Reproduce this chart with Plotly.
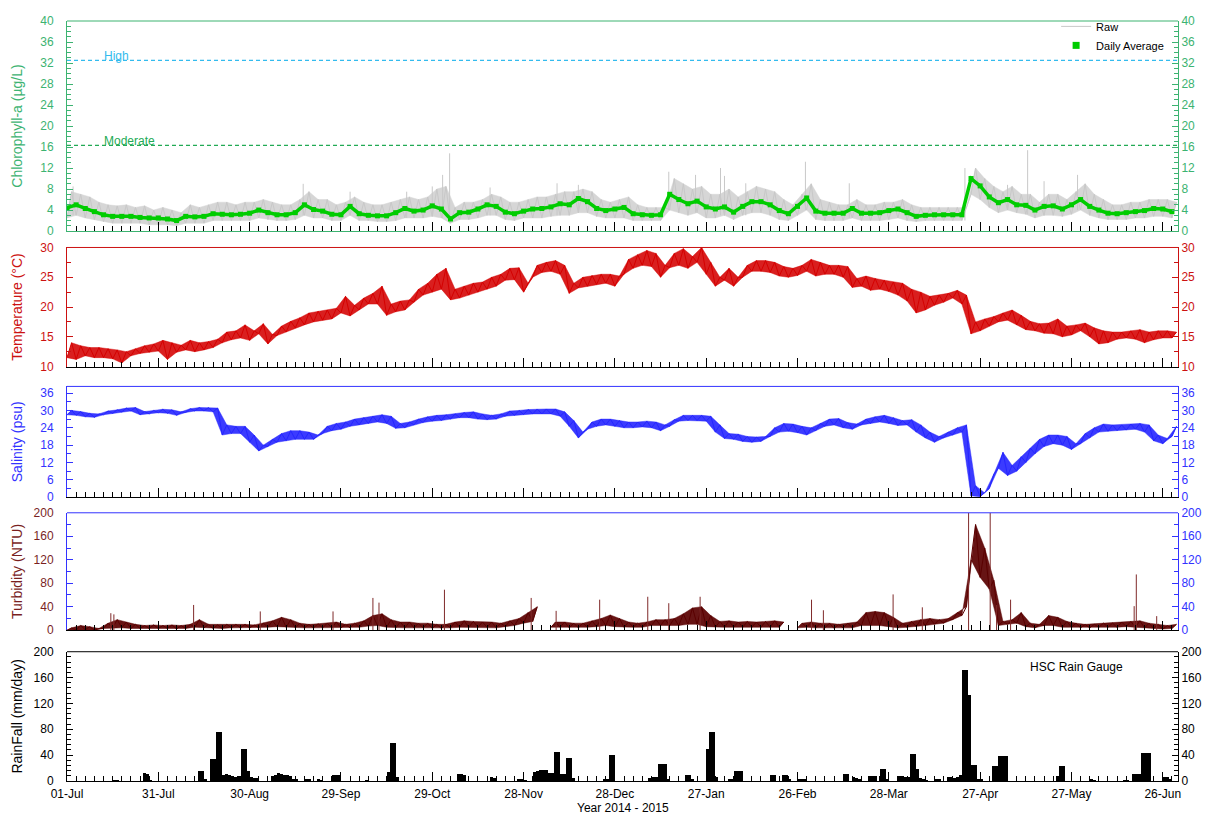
import pandas as pd
import plotly.graph_objects as go

START = pd.Timestamp("2014-07-01")
END = pd.Timestamp("2015-07-01")
STEP_DAYS = 3  # read-off sampling interval (days) from 01-Jul-2014

# ---------------- Chlorophyll-a (ug/L) ----------------
chl_avg = [4.4, 5.0, 4.3, 3.7, 3.1, 2.8, 2.8, 2.8, 2.6, 2.5,
           2.5, 2.3, 2.0, 2.8, 2.7, 2.8, 3.3, 3.2, 3.1, 3.2,
           3.4, 4.0, 3.5, 3.1, 3.1, 3.5, 5.0, 4.1, 3.8, 3.2,
           3.1, 4.7, 3.3, 3.0, 2.9, 2.9, 3.5, 4.3, 3.8, 4.0,
           4.8, 4.2, 2.3, 3.5, 3.6, 4.2, 5.0, 4.7, 3.6, 3.3,
           3.8, 4.2, 4.3, 4.6, 5.2, 5.0, 6.2, 5.6, 4.3, 3.9,
           4.2, 4.5, 3.3, 3.1, 3.0, 3.1, 7.0, 6.0, 5.2, 5.7,
           4.6, 4.2, 4.6, 3.6, 4.7, 5.6, 5.6, 5.0, 3.9, 3.3,
           4.7, 6.3, 3.8, 3.4, 3.4, 3.4, 4.3, 3.4, 3.4, 3.5,
           3.9, 4.2, 3.5, 2.8, 3.0, 3.1, 3.1, 3.1, 3.1, 10.0,
           8.6, 6.5, 5.4, 6.0, 5.0, 4.9, 4.0, 4.7, 4.8, 4.2,
           5.0, 6.0, 4.7, 4.0, 3.4, 3.3, 3.5, 3.7, 3.9, 4.3,
           4.2, 3.7]
chl_raw_lo = [2.5, 3.0, 2.5, 2.2, 1.8, 1.5, 1.5, 1.5, 1.5, 1.2,
              1.2, 1.2, 1.0, 1.5, 1.5, 1.5, 2.0, 2.0, 2.0, 2.0,
              2.0, 2.5, 2.2, 2.0, 2.0, 2.2, 3.0, 2.5, 2.5, 2.0,
              2.0, 3.0, 2.0, 2.0, 1.8, 1.8, 2.0, 2.5, 2.5, 2.5,
              2.8, 2.5, 1.5, 2.2, 2.2, 2.5, 3.0, 3.0, 2.2, 2.0,
              2.5, 2.5, 2.5, 2.8, 3.0, 3.0, 3.5, 3.5, 2.8, 2.5,
              2.5, 2.5, 2.0, 2.0, 2.0, 2.0, 4.0, 3.5, 3.0, 3.5,
              2.5, 2.5, 3.0, 2.2, 3.0, 3.5, 3.5, 3.0, 2.2, 2.0,
              3.0, 4.0, 2.2, 2.0, 2.0, 2.0, 2.5, 2.0, 2.0, 2.0,
              2.2, 2.5, 2.0, 1.8, 2.0, 2.0, 2.0, 2.0, 2.0, 7.0,
              6.0, 4.5, 3.5, 4.0, 3.5, 3.2, 2.5, 3.0, 3.0, 2.8,
              3.2, 4.0, 3.0, 2.5, 2.2, 2.2, 2.2, 2.5, 2.5, 2.8,
              2.8, 2.5]
chl_raw_hi = [7.5, 7.0, 6.5, 5.5, 5.0, 4.8, 5.0, 4.5, 4.8, 4.0,
              4.5, 4.0, 3.5, 5.0, 4.5, 5.0, 5.5, 5.5, 5.0, 5.5,
              5.5, 6.0, 5.5, 5.0, 5.0, 6.0, 7.5, 6.0, 6.0, 5.0,
              5.5, 6.5, 5.5, 5.0, 5.0, 5.5, 6.0, 6.5, 6.0, 6.5,
              8.0, 8.5, 4.5, 5.5, 5.5, 6.0, 7.0, 6.5, 5.5, 5.5,
              6.0, 6.5, 6.5, 7.0, 7.5, 7.5, 8.0, 7.5, 6.0, 5.5,
              6.0, 6.5, 5.0, 4.5, 4.5, 4.5, 10.0, 9.0, 8.0, 8.5,
              7.0, 7.0, 8.0, 6.5, 7.5, 8.5, 8.0, 7.5, 6.0, 5.0,
              7.0, 9.0, 6.0, 5.5, 5.0, 5.0, 6.0, 5.0, 5.0, 5.5,
              5.5, 6.0, 5.0, 4.5, 4.5, 4.5, 4.5, 4.5, 4.5, 12.0,
              10.0, 8.5, 7.5, 8.5, 7.0, 7.0, 5.5, 7.0, 7.0, 6.0,
              7.5, 9.0, 7.0, 6.0, 5.0, 5.0, 5.5, 5.5, 6.0, 6.0,
              6.0, 5.5]
chl_spike_day = [2, 77.6, 93, 111.6, 120, 123.4, 125.7, 139, 161, 168, 197.7,
                 206.5, 214.7, 216, 223, 242.6, 257, 295, 309, 315.6, 321, 332]
chl_spike_val = [8.5, 9, 7.5, 7.5, 8.5, 10.7, 14.8, 8.3, 9.1, 8.8, 11.3,
                 10.7, 12, 10.5, 9.1, 13.2, 9.1, 12, 8.8, 15.4, 9.5, 10.7]
threshold_names = ["High", "Moderate"]
threshold_values = [32.5, 16.3]

# ---------------- Temperature (deg C) ----------------
temp_lo = [11.5, 11.2, 11.8, 11.5, 11.5, 11.3, 10.6, 11.8, 12.2, 12.4,
           12.6, 11.2, 12.4, 12.8, 12.5, 12.8, 13.2, 14.0, 14.5, 14.8,
           14.4, 15.5, 13.8, 15.2, 15.8, 16.5, 17.0, 17.5, 17.8, 18.0,
           19.0, 18.5, 19.5, 20.5, 20.5, 18.6, 19.2, 19.5, 20.8, 22.0,
           22.5, 23.0, 21.2, 21.5, 22.0, 22.5, 23.0, 23.5, 24.5, 24.6,
           22.5, 25.0, 25.8, 26.0, 25.5, 22.3, 23.2, 23.5, 23.8, 24.0,
           23.5, 25.5, 26.5, 27.0, 26.8, 25.0, 26.6, 27.0, 26.5, 27.5,
           25.5, 23.5, 24.5, 23.5, 25.0, 26.0, 26.0, 25.8, 25.2, 25.0,
           25.3, 26.0, 25.2, 25.5, 25.5, 25.0, 23.3, 23.5, 22.8, 23.0,
           22.6, 22.0, 21.0, 19.0, 19.5, 20.3, 20.8, 21.5, 20.5, 15.5,
           16.0, 16.8, 17.5, 17.8, 17.0, 16.2, 16.0, 15.6, 15.5, 15.0,
           15.3, 16.0, 15.0, 13.8, 14.0, 14.6, 14.8, 14.6, 14.0, 14.5,
           14.8, 14.8]
temp_hi = [14.0, 13.5, 13.2, 13.2, 13.0, 12.8, 12.5, 13.0, 13.5, 13.8,
           14.4, 14.0, 13.6, 14.4, 14.0, 14.2, 14.6, 15.8, 16.0, 17.0,
           16.0, 17.2, 15.4, 16.8, 17.6, 18.2, 19.0, 19.3, 19.5, 19.8,
           21.8, 20.3, 21.5, 22.3, 23.5, 20.5, 21.0, 21.2, 23.0, 24.0,
           25.5, 26.5, 23.0, 23.5, 24.0, 24.2, 25.0, 25.5, 26.5, 26.6,
           24.0, 27.0, 27.5, 27.8, 27.0, 24.0, 25.0, 25.3, 25.5, 25.5,
           25.2, 28.0, 28.8, 29.5, 29.0, 27.0, 29.0, 29.8, 28.5, 30.0,
           27.5, 25.0, 26.5, 25.0, 27.0, 27.8, 27.8, 27.5, 26.8, 26.5,
           27.0, 28.0, 27.5, 27.0, 27.0, 26.8, 24.8, 25.2, 24.8, 24.5,
           24.2, 24.0, 23.0, 22.5, 21.8, 22.0, 22.3, 22.8, 22.0, 17.5,
           18.0, 18.4, 19.0, 19.5, 18.6, 17.6, 17.2, 17.3, 18.0, 16.8,
           17.0, 17.3, 16.5, 16.0, 15.8, 15.8, 16.0, 16.2, 15.8, 16.0,
           16.0, 15.8]

# ---------------- Salinity (psu) ----------------
sal_lo = [28.5, 28.3, 27.8, 27.6, 28.5, 29.0, 29.5, 29.8, 28.5, 28.8,
          29.2, 29.0, 28.3, 29.3, 29.8, 29.8, 29.5, 21.5, 22.0, 22.0,
          19.0, 16.0, 17.5, 19.0, 19.5, 20.0, 20.0, 20.0, 22.0, 23.0,
          23.5, 24.5, 25.0, 25.5, 26.0, 25.5, 23.8, 24.0, 25.0, 25.8,
          26.3, 26.5, 27.0, 27.5, 27.5, 27.0, 26.8, 27.0, 28.0, 28.3,
          28.6, 28.8, 28.8, 28.8, 28.0, 24.5, 20.5, 23.5, 24.5, 25.0,
          24.5, 24.0, 24.0, 24.3, 24.0, 23.0, 24.5, 26.3, 26.5, 26.5,
          26.3, 22.5, 20.3, 20.0, 19.3, 19.0, 19.3, 21.0, 22.5, 22.8,
          22.3, 21.5, 23.0, 24.5, 25.0, 24.0, 23.5, 25.0, 25.5, 26.0,
          25.5, 24.8, 25.0, 22.5, 20.5, 19.0, 20.5, 21.5, 22.5, 0.5,
          0.2, 3.0, 10.0, 7.5, 9.0, 12.0, 15.0, 17.5, 18.5, 18.0,
          16.5, 18.5, 20.5, 22.5, 22.8, 23.0, 23.2, 23.5, 22.5, 19.5,
          18.5, 21.0]
sal_hi = [30.0, 29.6, 29.0, 28.8, 29.8, 30.2, 30.8, 31.0, 29.6, 30.0,
          30.4, 30.2, 29.5, 30.6, 31.0, 31.0, 30.8, 25.0, 24.5, 24.5,
          21.5, 18.0, 20.0, 22.0, 23.0, 23.0, 22.5, 21.5, 24.5, 25.5,
          26.0, 27.0, 27.5, 28.0, 28.5, 28.0, 25.5, 26.0, 27.0, 27.8,
          28.3, 28.5, 28.8, 29.3, 29.5, 28.8, 28.3, 28.8, 29.8, 30.0,
          30.3, 30.5, 30.5, 30.5, 29.5, 26.5, 22.5, 26.0, 27.0, 27.0,
          26.5, 26.0, 26.0, 26.3, 26.0, 25.0, 26.8, 28.3, 28.3, 28.3,
          28.0, 25.0, 22.0, 21.8, 21.0, 20.8, 21.0, 24.0, 25.5, 25.3,
          24.5, 24.0, 25.5, 27.0, 27.2, 25.8, 25.3, 27.0, 27.8, 28.3,
          27.5, 26.5, 26.8, 25.0, 22.5, 21.0, 22.5, 24.0, 25.0, 4.0,
          1.5, 8.0, 15.5, 11.0, 14.0, 17.0, 20.0, 21.5, 21.5, 21.0,
          18.5, 22.0, 24.0, 25.3, 25.0, 25.0, 25.3, 25.5, 25.0, 21.5,
          20.3, 24.5]

# ---------------- Turbidity (NTU) ----------------
turb_lo = [0, 0, 1, 0, 3, 4, 4, 3, 3, 3,
           3, 3, 2, 3, 5, 4, 3, 3, 4, 4,
           4, 4, 5, 6, 5, 4, 4, 4, 4, 4,
           4, 4, 5, 7, 8, 5, 4, 4, 4, 4,
           3, 3, 4, 5, 5, 5, 5, 4, 6, 8,
           12, 15, None, 5, 5, 4, 4, 5, 6, 8,
           6, 5, 5, 5, 8, 8, 8, 8, 10, 10,
           6, 5, 5, 5, 5, 5, 5, 5, 5, None,
           4, 5, 4, 4, 3, 4, 4, 8, 8, 8,
           6, 4, 5, 6, 8, 10, 12, 18, 25, 120,
           90, 70, 8, 10, 12, 6, 4, 8, 8, 5,
           5, 4, 4, 5, 5, 5, 6, 5, 4, 3,
           2, 3]
turb_hi = [4, 8, 6, 3, 12, 18, 14, 10, 8, 9,
           8, 9, 8, 10, 18, 10, 9, 10, 10, 10,
           9, 12, 16, 22, 18, 12, 10, 11, 12, 14,
           10, 12, 16, 25, 28, 18, 14, 14, 12, 12,
           10, 10, 14, 16, 15, 14, 14, 12, 16, 20,
           30, 40, None, 14, 14, 12, 12, 16, 20, 26,
           20, 14, 12, 14, 18, 18, 20, 28, 38, 40,
           25, 15, 16, 14, 15, 14, 15, 16, 14, None,
           12, 14, 12, 12, 10, 12, 14, 30, 32, 30,
           22, 12, 15, 18, 20, 18, 20, 30, 40, 180,
           140, 85, 15, 18, 30, 12, 10, 25, 22, 15,
           12, 10, 10, 12, 12, 14, 15, 16, 12, 10,
           8, 10]
turb_spike_day = [14.4, 15.4, 41.6, 63.5, 87.4, 100.5, 102.5, 124, 152.5, 160.7, 175,
                  190.8, 197.7, 208, 244.6, 248.5, 271.4, 281, 296.2, 303.3, 305.4,
                  310, 350.6, 351.3, 358]
turb_spike_val = [29, 27, 43, 32, 32, 55, 47, 69, 55, 33, 52,
                  57, 46, 57, 52, 34, 61, 39, 200, 200, 43,
                  52, 41, 95, 24]

# ---------------- Rainfall (mm/day), day offset from 01-Jul-2014 ----------------
rain_day = [15, 16, 25, 26, 27, 43, 44, 45, 47, 48, 49, 50, 51, 52, 53, 54, 55, 56, 57, 58,
            59, 60, 61, 62, 67, 68, 69, 70, 71, 72, 73, 74, 75, 78, 79, 82, 83, 87, 88, 89,
            98, 105, 106, 107, 108, 128, 129, 130, 139, 140, 148, 149, 150, 153, 154, 155,
            156, 157, 158, 159, 160, 161, 162, 163, 164, 165, 166, 176, 177, 178, 179, 191,
            192, 193, 194, 195, 196, 197, 203, 204, 205, 210, 211, 212, 213, 217, 218, 219,
            220, 221, 231, 232, 235, 236, 237, 240, 241, 242, 255, 256, 258, 259, 260, 263,
            264, 265, 267, 268, 269, 273, 274, 275, 276, 277, 278, 279, 280, 281, 282, 285,
            286, 289, 290, 291, 292, 293, 294, 295, 296, 297, 298, 299, 300, 304, 305, 306,
            307, 308, 325, 326, 327, 336, 337, 347, 348, 350, 351, 352, 353, 354, 355, 360,
            361, 362]
rain_mm = [2, 1, 13, 12, 2, 16, 16, 3, 34, 34, 76, 76, 10, 11, 9, 8, 7, 8, 50, 50,
           16, 6, 5, 5, 8, 10, 13, 12, 9, 9, 8, 4, 4, 4, 4, 3, 2, 9, 9, 9,
           2, 14, 59, 59, 6, 11, 11, 10, 6, 5, 3, 3, 2, 15, 16, 17,
           18, 18, 13, 13, 45, 45, 12, 12, 36, 36, 5, 3, 4, 41, 41, 5,
           6, 6, 27, 27, 27, 4, 10, 10, 3, 50, 76, 76, 6, 4, 4, 16,
           16, 16, 10, 10, 10, 10, 4, 4, 4, 3, 12, 11, 6, 5, 3, 8,
           8, 8, 19, 19, 3, 8, 8, 6, 6, 42, 42, 19, 5, 3, 2, 4,
           3, 6, 6, 5, 6, 10, 172, 172, 134, 25, 25, 4, 3, 23, 23, 39,
           39, 39, 8, 23, 23, 3, 2, 2, 2, 12, 12, 12, 44, 44, 44, 6,
           6, 3]

# ---------------- styling ----------------
FONT = "Arial, 'Liberation Sans', sans-serif"
GREEN_AX = "#3CB371"
CHL_AVG_C = "#00CC00"
RAW_C = "#C8C8C8"
RED = "#CC1111"
TEMP_C = "#D40000"
BLUE = "#3333FF"
SAL_C = "#2626FF"
TURB_C = "#5A0000"
TURB_LAB = "#7A1F1F"
DAY_MS = 86400000


def sample_dates(n):
    return pd.date_range(START, periods=n, freq=f"{STEP_DAYS}D")


def zigzag(lo, hi):
    dates = sample_dates(len(lo))
    half = pd.Timedelta(days=STEP_DAYS / 2)
    xs, ys = [], []
    for d, l, h in zip(dates, lo, hi):
        if l is None or h is None:
            xs.append(None)
            ys.append(None)
            continue
        xs += [d, d + half]
        ys += [l, h]
    return xs, ys


def band(lo, hi):
    """closed outline between the low and high read-off envelopes"""
    dates = sample_dates(len(lo))
    half = pd.Timedelta(days=STEP_DAYS / 2)
    segs, cur = [], []
    for d, l, h in zip(dates, lo, hi):
        if l is None or h is None:
            if cur:
                segs.append(cur)
            cur = []
            continue
        cur.append((d, l, h))
    if cur:
        segs.append(cur)
    xs, ys = [], []
    for seg in segs:
        xs += [d for d, _, _ in seg] + [d + half for d, _, _ in reversed(seg)]
        ys += [l for _, l, _ in seg] + [h for _, _, h in reversed(seg)]
        xs.append(None)
        ys.append(None)
    return xs, ys


def spikes(days, vals, base_list=None):
    xs, ys = [], []
    for d, v in zip(days, vals):
        t = START + pd.Timedelta(days=d)
        if base_list is None:
            b = 0
        else:
            b = base_list[min(int(round(d / STEP_DAYS)), len(base_list) - 1)]
        xs += [t, t, None]
        ys += [b, v, None]
    return xs, ys


def add_raw(fig, lo, hi, color, fillcolor, xa, ya, width=1.0, name=None):
    bx, by = band(lo, hi)
    fig.add_trace(go.Scatter(x=bx, y=by, mode="lines", fill="toself", fillcolor=fillcolor,
                             line=dict(width=0.5, color=fillcolor), showlegend=False,
                             hoverinfo="skip", xaxis=xa, yaxis=ya))
    zx, zy = zigzag(lo, hi)
    fig.add_trace(go.Scatter(x=zx, y=zy, mode="lines", line=dict(color=color, width=width),
                             name=name, showlegend=name is not None,
                             xaxis=xa, yaxis=ya, hoverinfo="skip"))


fig = go.Figure()

# Panel 1: chlorophyll
add_raw(fig, chl_raw_lo, chl_raw_hi, RAW_C, "#D6D6D6", "x", "y", 1.0, "Raw")
x, y = spikes(chl_spike_day, chl_spike_val, chl_raw_lo)
fig.add_trace(go.Scatter(x=x, y=y, mode="lines", line=dict(color=RAW_C, width=1),
                         showlegend=False, xaxis="x", yaxis="y", hoverinfo="skip"))
fig.add_trace(go.Scatter(x=sample_dates(len(chl_avg)), y=chl_avg, mode="lines+markers",
                         line=dict(color=CHL_AVG_C, width=3.5),
                         marker=dict(symbol="square", size=5, color=CHL_AVG_C),
                         showlegend=False, xaxis="x", yaxis="y"))
fig.add_trace(go.Scatter(x=[None], y=[None], mode="markers", name="Daily Average",
                         marker=dict(symbol="square", size=7, color=CHL_AVG_C),
                         xaxis="x", yaxis="y"))

# Panel 2: temperature
add_raw(fig, temp_lo, temp_hi, TEMP_C, "rgba(212,0,0,0.88)", "x2", "y2", 1.0)
# Panel 3: salinity
add_raw(fig, sal_lo, sal_hi, SAL_C, "rgba(38,38,255,0.9)", "x3", "y3", 1.0)
# Panel 4: turbidity
add_raw(fig, turb_lo, turb_hi, TURB_C, "rgba(90,0,0,0.92)", "x4", "y4", 1.0)
x, y = spikes(turb_spike_day, turb_spike_val)
fig.add_trace(go.Scatter(x=x, y=y, mode="lines", line=dict(color="#7F2A2A", width=1),
                         showlegend=False, xaxis="x4", yaxis="y4", hoverinfo="skip"))
# Panel 5: rainfall
fig.add_trace(go.Bar(x=[START + pd.Timedelta(days=d) for d in rain_day], y=rain_mm,
                     width=DAY_MS, offset=0, marker=dict(color="black", line=dict(width=0)),
                     showlegend=False, xaxis="x5", yaxis="y5"))

# dummy traces so that the right-hand axes are drawn
for i in range(5):
    fig.add_trace(go.Scatter(x=[None], y=[None], showlegend=False, hoverinfo="skip",
                             xaxis="x" if i == 0 else f"x{i + 1}", yaxis=f"y{i + 6}"))

domains = [[0.7236, 1.0], [0.5453, 0.7020], [0.3734, 0.5192], [0.1984, 0.3529], [0.0, 0.1701]]
panels = [
    # title, range, dtick, tick0, minor, label colour, line colour, right label colour, title standoff
    ("Chlorophyll-a (µg/L)", [0, 40], 4, 0, 1, GREEN_AX, GREEN_AX, GREEN_AX, 14),
    ("Temperature (°C)", [10, 30], 5, 10, 2.5, RED, RED, RED, 14),
    ("Salinity (psu)", [0, 38.3], 6, 0, 3, BLUE, BLUE, BLUE, 14),
    ("Turbidity (NTU)", [0, 200], 40, 0, 20, TURB_LAB, BLUE, BLUE, 7),
    ("RainFall (mm/day)", [0, 200], 40, 0, 8, "black", "black", "black", 7),
]
bottom_line = [GREEN_AX, "black", "black", "black", "black"]

layout = dict(
    width=1214, height=814,
    margin=dict(l=67, r=33, t=15, b=33),
    paper_bgcolor="white", plot_bgcolor="white",
    font=dict(family=FONT, size=12, color="black"),
    showlegend=True,
    legend=dict(x=0.992, xanchor="right", y=1.012, yanchor="top",
                bgcolor="rgba(0,0,0,0)", font=dict(size=11, color="black"),
                tracegroupgap=0, itemwidth=30),
    bargap=0,
)

shapes = []
annotations = []
for i, (title, rng, dt, t0, mdt, labc, linec, rlabc, tstand) in enumerate(panels):
    n = i + 1
    xa = "xaxis" if n == 1 else f"xaxis{n}"
    ya = "yaxis" if n == 1 else f"yaxis{n}"
    xref = "x" if n == 1 else f"x{n}"
    yref = "y" if n == 1 else f"y{n}"
    layout[xa] = dict(
        domain=[0, 1], anchor=yref, type="date",
        range=[START, END], tick0=START, dtick=30 * DAY_MS,
        ticks="inside", ticklen=9, tickcolor="black", tickwidth=1,
        minor=dict(dtick=STEP_DAYS * DAY_MS, tick0=START, ticks="inside",
                   ticklen=5, tickcolor="black", tickwidth=1),
        showline=True, linecolor=bottom_line[i], linewidth=1,
        showgrid=False, zeroline=False,
        showticklabels=(n == 5), tickformat="%d-%b", ticklabelstandoff=2,
        tickfont=dict(size=12, color="black"),
    )
    if n > 1:
        layout[xa]["matches"] = "x"
    common = dict(range=rng, dtick=dt, tick0=t0, ticks="inside", ticklen=6,
                  tickcolor=linec, showline=True, linecolor=linec, linewidth=1,
                  showgrid=False, zeroline=False,
                  minor=dict(dtick=mdt, tick0=t0, ticks="inside", ticklen=4, tickcolor=linec))
    layout[ya] = dict(domain=domains[i], anchor=xref, side="left", ticklabelstandoff=10,
                      tickfont=dict(size=12, color=labc),
                      title=dict(text=title, font=dict(size=14, color=labc), standoff=tstand),
                      **common)
    layout[f"yaxis{n + 5}"] = dict(overlaying=yref, anchor=xref, side="right",
                                  tickfont=dict(size=12, color=rlabc), **common)
    shapes.append(dict(type="line", xref=f"{xref} domain", yref=f"{yref} domain",
                       x0=0, x1=1, y0=1, y1=1, line=dict(color=linec, width=1)))

thr_colors = ["#33BBEE", "#22AA55"]
for name, val, col in zip(threshold_names, threshold_values, thr_colors):
    shapes.append(dict(type="line", xref="x domain", yref="y", x0=0, x1=1, y0=val, y1=val,
                       line=dict(color=col, width=1.2, dash="4px,3px")))
    annotations.append(dict(text=name, xref="x", yref="y",
                            x=START + pd.Timedelta(days=11.5), y=val,
                            xanchor="left", yanchor="bottom", yshift=-5, showarrow=False,
                            font=dict(size=12, color=col)))

annotations.append(dict(text="HSC Rain Gauge", xref="x5 domain", yref="y5 domain",
                        x=0.909, y=0.883, xanchor="center", yanchor="middle",
                        showarrow=False, font=dict(size=12, color="black")))
annotations.append(dict(text="Year 2014 - 2015", xref="paper", yref="paper",
                        x=0.5, y=-0.0355, xanchor="center", yanchor="middle",
                        showarrow=False, font=dict(size=12, color="black")))

layout["shapes"] = shapes
layout["annotations"] = annotations
fig.update_layout(**layout)

fig.write_html("out.html", config={"displayModeBar": False},
               post_script="document.body.style.margin='0';")
